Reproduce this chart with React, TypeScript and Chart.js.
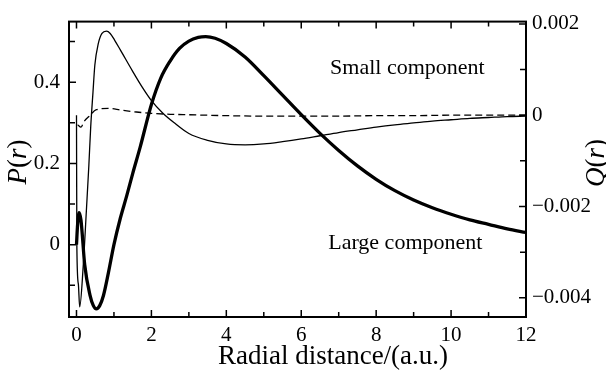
import React, { useEffect, useRef } from 'react';
import { Chart, registerables } from 'chart.js';
Chart.register(...registerables);

// Large component P(r) (left axis)
const LARGE_R = [0, 0.03, 0.07, 0.12, 0.22, 0.36, 0.45, 0.53, 0.62, 0.72, 0.85, 1.0, 1.17, 1.34, 1.5, 1.7, 2.0, 2.25, 2.5, 2.75, 3.0, 3.25, 3.45, 3.7, 4.0, 4.5, 5.0, 5.5, 6.0, 6.5, 7.0, 7.5, 8.0, 8.5, 9.0, 9.5, 10, 10.5, 11, 11.5, 12];
const LARGE_P = [0, 0.05, 0.079, 0.06, -0.05, -0.124, -0.15, -0.158, -0.15, -0.125, -0.07, 0.0, 0.065, 0.12, 0.175, 0.24, 0.345, 0.41, 0.452, 0.483, 0.501, 0.51, 0.512, 0.508, 0.495, 0.462, 0.416, 0.368, 0.32, 0.274, 0.232, 0.194, 0.161, 0.133, 0.11, 0.091, 0.075, 0.061, 0.05, 0.039, 0.03];

// Small component Q(r) (right axis), solid
const SMALL_R = [0, 0.01, 0.05, 0.085, 0.18, 0.27, 0.33, 0.38, 0.44, 0.49, 0.58, 0.68, 0.8, 0.9, 1.02, 1.17, 1.5, 1.75, 2.0, 2.3, 2.6, 3.0, 3.5, 4.0, 4.5, 5.0, 5.5, 6.0, 6.5, 7.0, 7.5, 8.0, 8.5, 9.0, 9.5, 10, 10.5, 11, 11.5, 12];
const SMALL_Q = [0, -0.0029, -0.0037, -0.0042, -0.0033, -0.002, -0.0011, -0.00025, 0.0005, 0.0011, 0.00156, 0.00179, 0.00184, 0.00179, 0.00164, 0.00143, 0.00096, 0.00062, 0.00032, 0.00005, -0.00016, -0.0004, -0.00055, -0.00063, -0.00065, -0.00063, -0.00058, -0.00052, -0.00045, -0.00038, -0.00032, -0.00026, -0.00021, -0.00017, -0.00013, -0.0001, -0.00007, -0.00005, -0.00003, -0.00002];

// Small component Q(r), dashed
const DASH_R = [0.03, 0.12, 0.2, 0.33, 0.53, 0.85, 1.2, 1.6, 2.0, 2.5, 3.0, 4.0, 5.0, 6.0, 7.0, 8.0, 9.0, 10, 11, 12];
const DASH_Q = [-0.00021, -0.00026, -0.00014, -0.00003, 0.00012, 0.00015, 0.00011, 0.00007, 0.00004, 0.00002, 0.00001, -0.00001, -0.00002, -0.00002, -0.00002, -0.00001, -0.00001, 0, 0, 0];

const X_MAJOR = [0, 2, 4, 6, 8, 10, 12];
const X_MINOR = [1, 3, 5, 7, 9, 11];
const P_MAJOR = [0, 0.2, 0.4];
const P_MINOR = [-0.1, 0.1, 0.3, 0.5];
const Q_MAJOR = [-0.004, -0.002, 0, 0.002];
const Q_MINOR = [-0.003, -0.001, 0.001];

const X_TITLE = 'Radial distance/(a.u.)';
const P_TITLE: [string, boolean][] = [['P', true], ['(', false], ['r', true], [')', false]];
const Q_TITLE: [string, boolean][] = [['Q', true], ['(', false], ['r', true], [')', false]];
const LABELS = ['Small component', 'Large component'];
const LABEL_R = [6.77, 6.72];
const LABEL_P = [0.42, -0.01];

const FONT = '"Liberation Serif", "Times New Roman", serif';

function drawMixed(ctx: CanvasRenderingContext2D, parts: [string, boolean][], cx: number, cy: number, rot: number, size: number) {
  ctx.save();
  ctx.translate(cx, cy);
  ctx.rotate(rot);
  const fonts = parts.map(([, it]) => (it ? 'italic ' : '') + `${size}px ${FONT}`);
  let total = 0;
  parts.forEach(([t], i) => { ctx.font = fonts[i]; total += ctx.measureText(t).width; });
  let x = -total / 2;
  ctx.textBaseline = 'middle';
  ctx.textAlign = 'left';
  ctx.fillStyle = '#000';
  parts.forEach(([t], i) => { ctx.font = fonts[i]; ctx.fillText(t, x, 0); x += ctx.measureText(t).width; });
  ctx.restore();
}

const decor = {
  id: 'decor',
  afterDraw(chart: any) {
    const ctx: CanvasRenderingContext2D = chart.ctx;
    const { left, right, top, bottom } = chart.chartArea;
    const xs = chart.scales.x, yl = chart.scales.y, yr = chart.scales.y1;
    ctx.save();
    ctx.strokeStyle = '#000';
    ctx.lineWidth = 1.5;
    ctx.beginPath();
    const xt = (vals: number[], len: number) => vals.forEach(v => {
      const p = xs.getPixelForValue(v);
      ctx.moveTo(p, bottom); ctx.lineTo(p, bottom - len);
      ctx.moveTo(p, top); ctx.lineTo(p, top + len);
    });
    xt(X_MAJOR, 7); xt(X_MINOR, 5);
    const lt = (vals: number[], len: number) => vals.forEach(v => {
      const p = yl.getPixelForValue(v);
      ctx.moveTo(left, p); ctx.lineTo(left + len, p);
    });
    lt(P_MAJOR, 7); lt(P_MINOR, 6);
    const rt = (vals: number[], len: number) => vals.forEach(v => {
      const p = yr.getPixelForValue(v);
      ctx.moveTo(right, p); ctx.lineTo(right - len, p);
    });
    rt(Q_MAJOR, 7); rt(Q_MINOR, 6);
    ctx.stroke();
    ctx.lineWidth = 2;
    ctx.strokeRect(left, top, right - left, bottom - top);

    ctx.fillStyle = '#000';
    ctx.font = `22px ${FONT}`;
    ctx.textAlign = 'left';
    ctx.textBaseline = 'alphabetic';
    LABELS.forEach((t, i) => {
      ctx.fillText(t, xs.getPixelForValue(LABEL_R[i]), yl.getPixelForValue(LABEL_P[i]));
    });
    ctx.font = `27px ${FONT}`;
    ctx.textAlign = 'center';
    ctx.textBaseline = 'middle';
    ctx.fillText(X_TITLE, 333, 357);
    ctx.restore();
    drawMixed(ctx, P_TITLE, 19, 162, -Math.PI / 2, 27);
    drawMixed(ctx, Q_TITLE, 597, 163, -Math.PI / 2, 27);
  },
};

export default function App() {
  const ref = useRef<HTMLCanvasElement>(null);
  useEffect(() => {
    if (!ref.current) return;
    const tickFont = { family: FONT, size: 21 };
    const chart = new Chart(ref.current, {
      type: 'line',
      data: {
        datasets: [
          {
            data: LARGE_R.map((x, i) => ({ x, y: LARGE_P[i] })),
            yAxisID: 'y', borderColor: '#000', borderWidth: 3.3, pointRadius: 0,
            cubicInterpolationMode: 'monotone', fill: false,
          },
          {
            data: SMALL_R.map((x, i) => ({ x, y: SMALL_Q[i] })),
            yAxisID: 'y1', borderColor: '#000', borderWidth: 1.3, pointRadius: 0,
            cubicInterpolationMode: 'monotone', fill: false,
          },
          {
            data: DASH_R.map((x, i) => ({ x, y: DASH_Q[i] })),
            yAxisID: 'y1', borderColor: '#000', borderWidth: 1.3, pointRadius: 0,
            borderDash: [7, 4], cubicInterpolationMode: 'monotone', fill: false,
          },
        ],
      },
      options: {
        animation: false,
        responsive: false,
        maintainAspectRatio: false,
        layout: { padding: { top: 19, left: 0, right: 0, bottom: 0 } },
        plugins: { legend: { display: false }, tooltip: { enabled: false }, title: { display: false } },
        scales: {
          x: {
            type: 'linear', min: -0.2, max: 12,
            afterBuildTicks: (s: any) => { s.ticks = X_MAJOR.map(v => ({ value: v })); },
            grid: { display: false, drawTicks: false }, border: { display: false },
            ticks: { padding: 6, font: tickFont, color: '#000', maxRotation: 0, autoSkip: false, callback: (v: any) => String(v) },
            afterFit: (s: any) => { s.height = 57; },
          },
          y: {
            type: 'linear', position: 'left', min: -0.178, max: 0.549,
            afterBuildTicks: (s: any) => { s.ticks = P_MAJOR.map(v => ({ value: v })); },
            grid: { display: false, drawTicks: false }, border: { display: false },
            ticks: { padding: 9, font: tickFont, color: '#000', autoSkip: false, callback: (v: any) => (v === 0 ? '0' : Number(v).toFixed(1)) },
            afterFit: (s: any) => { s.width = 69; },
          },
          y1: {
            type: 'linear', position: 'right', min: -0.00442, max: 0.00205,
            afterBuildTicks: (s: any) => { s.ticks = Q_MAJOR.map(v => ({ value: v })); },
            grid: { display: false, drawTicks: false }, border: { display: false },
            ticks: { padding: 6, font: tickFont, color: '#000', autoSkip: false, callback: (v: any) => (v === 0 ? '0' : (v < 0 ? '\u2212' : '') + Math.abs(v).toFixed(3)) },
            afterFit: (s: any) => { s.width = 80; },
          },
        },
      },
      plugins: [decor],
    } as any);
    return () => chart.destroy();
  }, []);
  return (
    <div style={{ position: 'absolute', left: 0, top: 0, width: 606, height: 374, background: '#fff' }}>
      <canvas ref={ref} width={606} height={374} style={{ display: 'block' }} />
    </div>
  );
}
